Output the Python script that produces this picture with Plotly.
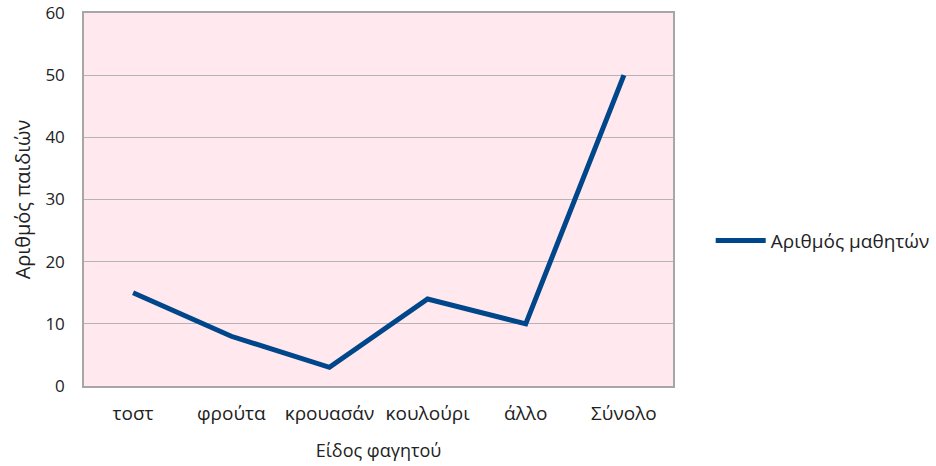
import plotly.graph_objects as go

categories = ["τοστ", "φρούτα", "κρουασάν", "κουλούρι", "άλλο", "Σύνολο"]
values = [15, 8, 3, 14, 10, 50]
series_name = "Αριθμός μαθητών"
y_ticks = [0, 10, 20, 30, 40, 50, 60]

FONT = "Open Sans"

fig = go.Figure()
fig.add_trace(go.Scatter(
    x=categories, y=values, mode="lines", name=series_name,
    line=dict(color="#00468B", width=5),
))

fig.update_layout(
    width=936, height=466,
    margin=dict(l=84, r=263, t=13, b=80, autoexpand=False),
    paper_bgcolor="white",
    plot_bgcolor="#FFE8EE",
    font=dict(family=FONT, size=16, color="#222222"),
    showlegend=True,
    legend=dict(x=1.064, y=0.39, xanchor="left", yanchor="middle",
                font=dict(family=FONT, size=19, color="#222222"),
                bgcolor="rgba(0,0,0,0)", itemwidth=50),
    xaxis=dict(
        type="category", range=[-0.5, 5.5], automargin=False,
        showgrid=False, ticks="", tickfont=dict(size=19), ticklabelstandoff=9,
        showline=True, linecolor="#A6A6A6", linewidth=1.5, mirror=True,
        title=dict(text="Είδος φαγητού", font=dict(size=18), standoff=20),
    ),
    yaxis=dict(
        range=[0, 60], tickvals=y_ticks, automargin=False,
        showgrid=True, gridcolor="#B4B4B4", gridwidth=1,
        showline=True, linecolor="#A6A6A6", linewidth=1.5, mirror=True,
        ticks="", tickfont=dict(size=17), zeroline=False, ticklabelstandoff=14,
        title=dict(text="Αριθμός παιδιών", font=dict(size=20), standoff=9),
    ),
)

fig.write_html("out.html", config={"displayModeBar": False},
               post_script="document.body.style.margin='0';")
